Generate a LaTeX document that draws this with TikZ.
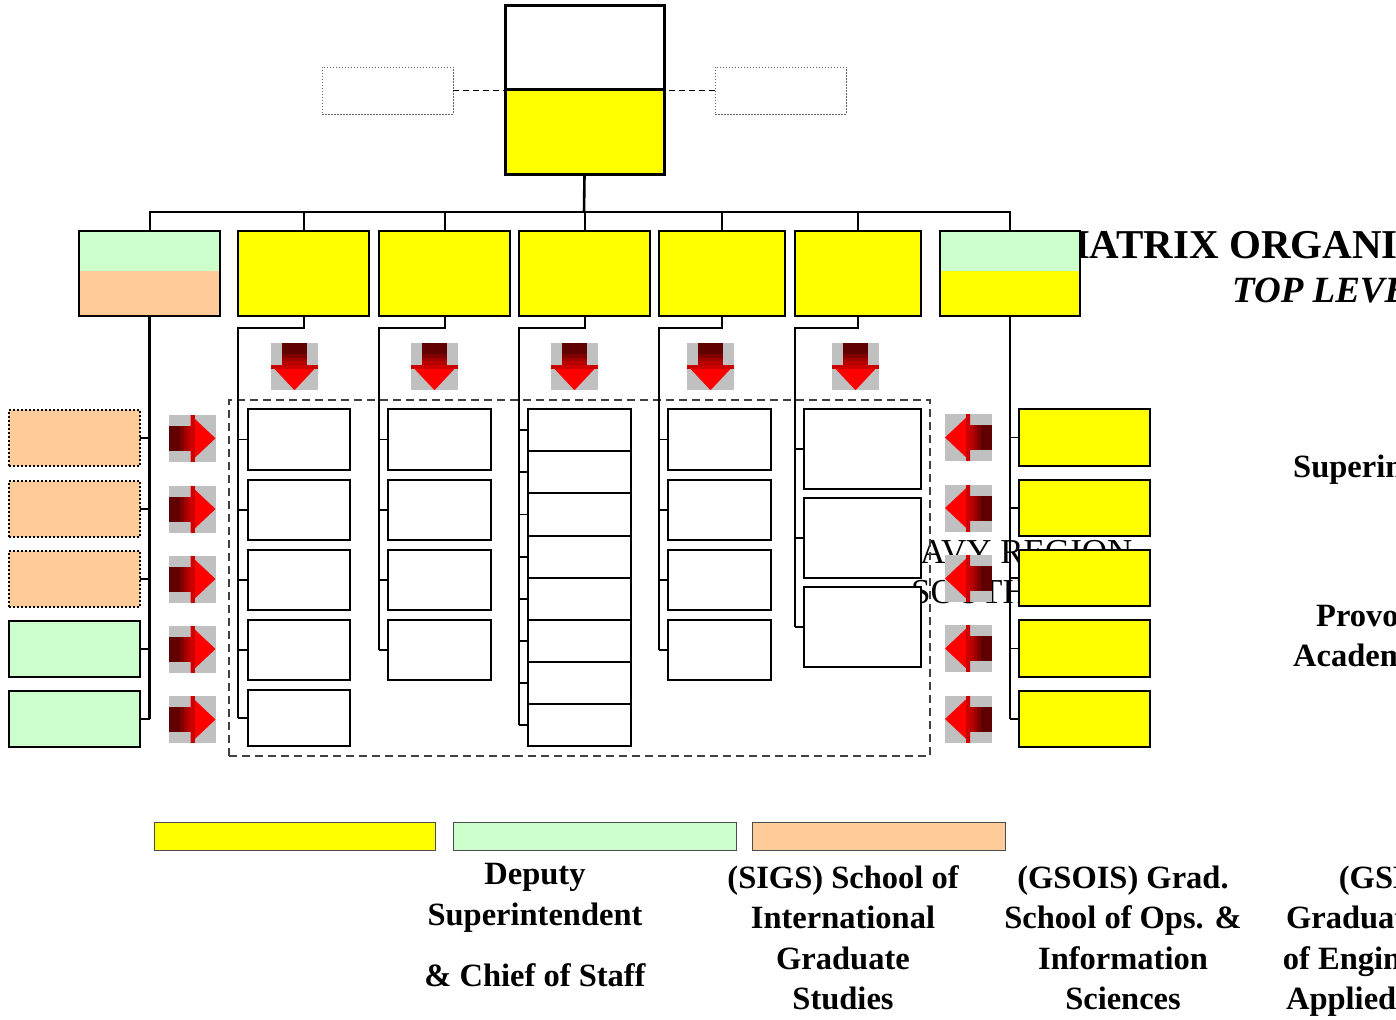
\documentclass[tikz,border=0pt]{standalone}
\usepackage{fontspec}
\setmainfont{Liberation Serif}
\definecolor{yel}{HTML}{FFFF00}
\definecolor{grn}{HTML}{CCFFCC}
\definecolor{pch}{HTML}{FFCC99}
\definecolor{agray}{HTML}{C0C0C0}
\definecolor{dra}{HTML}{600000}
\definecolor{drb}{HTML}{800000}
\definecolor{drc}{HTML}{A00000}
\definecolor{drd}{HTML}{B80000}
\definecolor{dre}{HTML}{CC0000}
\definecolor{hdred}{HTML}{FF0000}
\newcommand\bx[6]{\node[#2, minimum width=#5pt-#3pt, minimum height=#6pt-#4pt, inner sep=0pt, outer sep=0pt] (#1) at ({(#3+#5)/2},{(#4+#6)/2}) {};}
\tikzset{
  topbox/.style={draw, line width=3pt},
  mainbox/.style={draw, line width=1.6pt},
  subbox/.style={draw, line width=1.2pt, fill=white},
  dotbox/.style={draw=black!60, line width=0.9pt, dash pattern=on 1.5pt off 1.5pt},
  pchbox/.style={draw, fill=pch, line width=1.8pt, dash pattern=on 2pt off 2pt},
  grnbox/.style={draw, fill=grn, line width=1.8pt},
  yelbox/.style={draw, fill=yel, line width=1.8pt},
  legbox/.style={draw=black!70, line width=1pt},
  frame/.style={draw=black!75, line width=1.2pt, dash pattern=on 8pt off 5pt},
  conn/.style={line width=2pt},
  tie/.style={line width=1.2pt},
  linkdash/.style={line width=1pt, dash pattern=on 6pt off 4pt},
  legtext/.style={font=\fontsize{32.5}{40}\selectfont\bfseries, inner sep=0pt, anchor=base},
  sidetext/.style={font=\fontsize{32.5}{40}\selectfont\bfseries, inner sep=0pt, anchor=base west},
  pics/bigarr/.style={code={
    \fill[agray] (-23.5,-23.5) rectangle (23.5,23.5);
    \fill[dra] (-12.5,-23.5) rectangle (12.5,-12.5);
    \fill[drb] (-12.5,-12.5) rectangle (12.5,-8.5);
    \fill[drc] (-12.5,-8.5) rectangle (12.5,-5.5);
    \fill[drd] (-12.5,-5.5) rectangle (12.5,-1.5);
    \fill[hdred] (-23.5,-1.5) -- (23.5,-1.5) -- (0,23.5) -- cycle;
    \fill[dre] (-23.5,-1.5) rectangle (23.5,2.5);
  }}
}
\begin{document}
\begin{tikzpicture}[x=1pt,y=-1pt]
\useasboundingbox (0,0) rectangle (1396,1019);
\clip (0,0) rectangle (1396,1019);
% occluded texts (drawn first)
\node[font=\fontsize{41}{45}\selectfont\bfseries, inner sep=0pt, anchor=base west] (title) at (1051,258) {MATRIX ORGANIZATION};
\node[font=\fontsize{37}{42}\selectfont\bfseries\itshape, inner sep=0pt, anchor=base west] (subtitle) at (1232,302) {TOP LEVEL};
\node[font=\fontsize{35}{40}\selectfont, inner sep=0pt, anchor=base west] (region) at (920,563) {AVY REGION};
\node[font=\fontsize{35}{40}\selectfont, inner sep=0pt, anchor=base west] (south) at (911,603) {SOUTH};
% top
\bx{ceoA}{topbox, fill=white}{505}{6}{664}{90}
\bx{ceoB}{topbox, fill=yel}{505}{90}{664}{175}
\bx{dl}{dotbox}{322}{67}{453}{114}
\bx{dr}{dotbox}{715}{67}{846}{114}
\draw[linkdash] (dl.east) -- (dl.east -| ceoB.west);
\draw[linkdash] (dr.west) -- (dr.west -| ceoB.east);
% second row
\fill[grn] (79,231) rectangle (220,271);
\fill[pch] (79,271) rectangle (220,316);
\bx{B1}{mainbox}{79}{231}{220}{316}
\bx{B2}{mainbox, fill=yel}{238}{231}{369}{316}
\bx{B3}{mainbox, fill=yel}{379}{231}{510}{316}
\bx{B4}{mainbox, fill=yel}{519}{231}{650}{316}
\bx{B5}{mainbox, fill=yel}{659}{231}{785}{316}
\bx{B6}{mainbox, fill=yel}{795}{231}{921}{316}
\fill[grn] (940,231) rectangle (1080,271);
\fill[yel] (940,271) rectangle (1080,316);
\bx{B7}{mainbox}{940}{231}{1080}{316}
% bus
\coordinate (bus) at (584,212);
\draw[conn, line width=2.6pt] (ceoB.south) -- (bus);
\draw[conn] (B1.north) -- (B1.north |- bus) -- (B7.north |- bus) -- (B7.north);
\foreach \b in {B2,B3,B4,B5,B6}{\draw[conn] (\b.north) -- (\b.north |- bus);}
% frame
\bx{frame}{frame}{229}{400}{930}{756}
% left column
\bx{L1}{pchbox}{9}{410}{140}{466}
\bx{L2}{pchbox}{9}{481}{140}{537}
\bx{L3}{pchbox}{9}{551}{140}{607}
\bx{L4}{grnbox}{9}{621}{140}{677}
\bx{L5}{grnbox}{9}{691}{140}{747}
\draw[conn, line width=2.8pt] (B1.south) -- (B1.south |- L5.east);
\foreach \l in {L1,L2,L3,L4,L5}{\draw[tie, line width=1.8pt] (\l.east) -- (\l.east -| B1.south);}
% right column
\bx{R1}{yelbox}{1019}{409}{1150}{466}
\bx{R2}{yelbox}{1019}{480}{1150}{536}
\bx{R3}{yelbox}{1019}{550}{1150}{606}
\bx{R4}{yelbox}{1019}{620}{1150}{677}
\bx{R5}{yelbox}{1019}{691}{1150}{747}
\draw[conn] (B7.south) -- (B7.south |- R5.west);
\foreach \r in {R1,R2,R3,R4,R5}{\draw[tie, line width=1.8pt] (\r.west) -- (\r.west -| B7.south);}
% column 2
\bx{s2a}{subbox}{248}{409}{350}{470}
\bx{s2b}{subbox}{248}{480}{350}{540}
\bx{s2c}{subbox}{248}{550}{350}{610}
\bx{s2d}{subbox}{248}{620}{350}{680}
\bx{s2e}{subbox}{248}{690}{350}{746}
\draw[conn] (B2.south) -- ++(0,12) -| (s2e.west -| B2.west);
\foreach \s in {s2a,s2b,s2c,s2d,s2e}{\draw[tie] (\s.west -| B2.west) -- (\s.west);}
% column 3
\bx{s3a}{subbox}{388}{409}{491}{470}
\bx{s3b}{subbox}{388}{480}{491}{540}
\bx{s3c}{subbox}{388}{550}{491}{610}
\bx{s3d}{subbox}{388}{620}{491}{680}
\draw[conn] (B3.south) -- ++(0,12) -| (s3d.west -| B3.west);
\foreach \s in {s3a,s3b,s3c,s3d}{\draw[tie] (\s.west -| B3.west) -- (\s.west);}
% column 4
\bx{s4a}{subbox}{528}{409}{631}{451}
\bx{s4b}{subbox}{528}{451}{631}{493}
\bx{s4c}{subbox}{528}{493}{631}{536}
\bx{s4d}{subbox}{528}{536}{631}{578}
\bx{s4e}{subbox}{528}{578}{631}{620}
\bx{s4f}{subbox}{528}{620}{631}{662}
\bx{s4g}{subbox}{528}{662}{631}{704}
\bx{s4h}{subbox}{528}{704}{631}{746}
\draw[conn] (B4.south) -- ++(0,12) -| (s4h.west -| B4.west);
\foreach \s in {s4a,s4b,s4c,s4d,s4e,s4f,s4g,s4h}{\draw[tie] (\s.west -| B4.west) -- (\s.west);}
% column 5
\bx{s5a}{subbox}{668}{409}{771}{470}
\bx{s5b}{subbox}{668}{480}{771}{540}
\bx{s5c}{subbox}{668}{550}{771}{610}
\bx{s5d}{subbox}{668}{620}{771}{680}
\draw[conn] (B5.south) -- ++(0,12) -| (s5d.west -| B5.west);
\foreach \s in {s5a,s5b,s5c,s5d}{\draw[tie] (\s.west -| B5.west) -- (\s.west);}
% column 6
\bx{s6a}{subbox}{804}{409}{921}{489}
\bx{s6b}{subbox}{804}{498}{921}{578}
\bx{s6c}{subbox}{804}{587}{921}{667}
\draw[conn] (B6.south) -- ++(0,12) -| (s6c.west -| B6.west);
\foreach \s in {s6a,s6b,s6c}{\draw[tie] (\s.west -| B6.west) -- (\s.west);}
% arrows
\foreach \x in {294.5,434.5,574.5,710.5,855.5}{\pic at (\x,366.7) {bigarr};}
\foreach \y in {438.3,509,579,649,719.5}{\pic[rotate=90] at (192,\y) {bigarr};}
\foreach \y in {437.5,508,578.5,648.5,719}{\pic[rotate=-90] at (968.5,\y) {bigarr};}
% legend
\bx{g1}{legbox, fill=yel}{154}{822}{435}{850}
\bx{g2}{legbox, fill=grn}{453}{822}{736}{850}
\bx{g3}{legbox, fill=pch}{752}{822}{1005}{850}
\node[legtext] (t1a) at (535,884) {Deputy};
\node[legtext] (t1b) at (535,925) {Superintendent};
\node[legtext] (t1c) at (535,986) {\& Chief of Staff};
\node[legtext] (t2a) at (843,888) {(SIGS) School of};
\node[legtext] (t2b) at (843,928) {International};
\node[legtext] (t2c) at (843,969) {Graduate};
\node[legtext] (t2d) at (843,1009) {Studies};
\node[legtext] (t3a) at (1123,888) {(GSOIS) Grad.};
\node[legtext] (t3b) at (1123,928) {School of Ops. \&};
\node[legtext] (t3c) at (1123,969) {Information};
\node[legtext] (t3d) at (1123,1009) {Sciences};
\node[legtext] (t4a) at (1403,888) {(GSEAS)};
\node[legtext] (t4b) at (1403,928) {Graduate School};
\node[legtext] (t4c) at (1403,969) {of Engineering \&};
\node[legtext] (t4d) at (1403,1009) {Applied Sciences};
\node[sidetext] (p1) at (1293,477) {Superintendent};
\node[sidetext] (p2) at (1316,626) {Provost \&};
\node[sidetext] (p3) at (1293,666) {Academic Dean};
\end{tikzpicture}
\end{document}
